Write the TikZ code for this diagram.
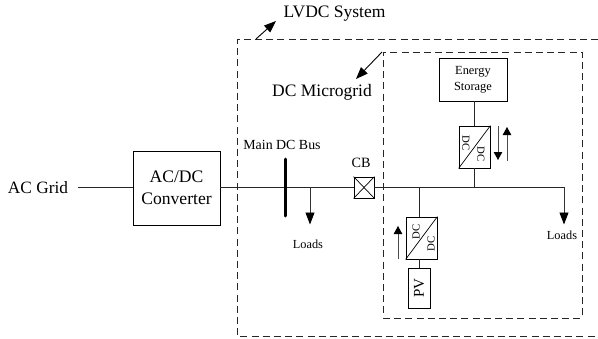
\documentclass[tikz,border=0pt]{standalone}
\usepackage{fontspec}
\setmainfont{Liberation Serif}
\usetikzlibrary{arrows.meta}
\tikzset{
  boxed/.style={draw,line width=0.9pt,inner sep=0pt,align=center},
  wire/.style={line width=0.9pt,draw=black!85},
  flow/.style={line width=0.9pt,draw=black!80,-{Triangle[length=12pt,width=9pt,color=black]}},
  smallflow/.style={line width=0.9pt,draw=black!70,-{Triangle[length=8pt,width=8.5pt,color=black]}},
  pointer/.style={line width=0.9pt,draw=black,-{Triangle[length=12pt,width=9pt]}},
  zone/.style={draw=black!85,line width=0.9pt,dash pattern=on 7pt off 4.2pt},
  lbl/.style={inner sep=0pt,font=\fontsize{#1}{#1}\selectfont},
}
\begin{document}
\begin{tikzpicture}[x=1pt,y=-1pt]
\useasboundingbox (0,0) rectangle (598,338);
% zones
\coordinate (ztr) at (598,39.5); \coordinate (ztl) at (237,39.5);
\coordinate (zbl) at (237,336); \coordinate (zbr) at (598,336);
\draw[zone] (ztr) -- (ztl) -- (zbl) -- (zbr);
\node[zone,minimum width=199pt,minimum height=266pt,inner sep=0pt] (mg) at (482.5,185) {};
% texts
\node[lbl=17.5] (lvdctxt) at (334.5,14) {LVDC System};
\node[lbl=17.5] (mgtxt) at (322,92) {DC Microgrid};
\node[lbl=17.3] (grid) at (38,188) {AC Grid};
\node[lbl=13.9] (mbus) at (282,145) {Main DC Bus};
\node[lbl=14.2] (cbtxt) at (361,163) {CB};
\node[lbl=12.3] (l1) at (308,244) {Loads};
\node[lbl=12.3] (l2) at (562,235) {Loads};
% boxes
\node[boxed,minimum width=87pt,minimum height=74pt,font=\fontsize{17.6}{22}\selectfont] (acdc) at (176.5,188) {AC/DC\\Converter};
\node[boxed,minimum width=68pt,minimum height=43pt,font=\fontsize{12.4}{16}\selectfont] (es) at (473,79.5) {Energy\\Storage};
\node[boxed,minimum width=20pt,minimum height=21pt] (cb) at (364,187.5) {};
\draw[line width=0.7pt] (cb.north west) -- (cb.south east) (cb.north east) -- (cb.south west);
\node[boxed,minimum width=31pt,minimum height=42pt] (c1) at (474.5,147) {};
\draw[line width=0.7pt] (c1.south west) -- (c1.north east);
\node[lbl=10.8,rotate=-90] (c1a) at (466,143) {DC};
\node[lbl=10.8,rotate=-90] (c1b) at (481,154) {DC};
\node[boxed,minimum width=31pt,minimum height=42pt] (c2) at (421.5,238) {};
\draw[line width=0.7pt] (c2.south west) -- (c2.north east);
\node[lbl=10.8,rotate=90] (c2a) at (416,232) {DC};
\node[lbl=10.8,rotate=90] (c2b) at (431,244) {DC};
\node[boxed,minimum width=22pt,minimum height=40pt] (pv) at (419,288) {\rotatebox{90}{\fontsize{15}{15}\selectfont PV}};
% coordinates
\coordinate (gridend) at (78,187);
\coordinate (bustop) at (285,159);
\coordinate (busbot) at (285,216);
\coordinate (busend) at (564,187);
\coordinate (t1) at (310,187);
\coordinate (t1e) at (310,224.5);
\coordinate (t2e) at (564,224.5);
\coordinate (t3) at (474,187);
\coordinate (t4) at (419,187);
\coordinate (cbl) at (354,187);
\coordinate (cbr) at (374,187);
% connectors
\draw[wire] (gridend) -- (acdc.west |- gridend);
\draw[wire] (acdc.east |- gridend) -- (cbl);
\draw[wire] (cbr) -- (busend);
\draw[line width=3pt,line cap=round] (bustop) -- (busbot);
\draw[flow] (t1) -- (t1e);
\draw[flow] (busend) -- (t2e);
\draw[wire] (es.south -| t3) -- (c1.north -| t3);
\draw[wire] (c1.south -| t3) -- (t3);
\draw[wire] (t4) -- (c2.north -| t4);
\draw[wire] (c2.south -| t4) -- (pv.north);
% flow arrows
\coordinate (a1s) at (498,126); \coordinate (a1e) at (498,160);
\coordinate (a2s) at (507,161); \coordinate (a2e) at (507,127);
\coordinate (a3s) at (398,259); \coordinate (a3e) at (398,226);
\draw[smallflow] (a1s) -- (a1e);
\draw[smallflow] (a2s) -- (a2e);
\draw[smallflow] (a3s) -- (a3e);
% zone pointers
\coordinate (p1) at (256,39); \coordinate (p1e) at (276,21);
\coordinate (p2) at (382,52); \coordinate (p2e) at (356,79);
\draw[pointer] (p1) -- (p1e);
\draw[pointer] (p2) -- (p2e);
\end{tikzpicture}
\end{document}
